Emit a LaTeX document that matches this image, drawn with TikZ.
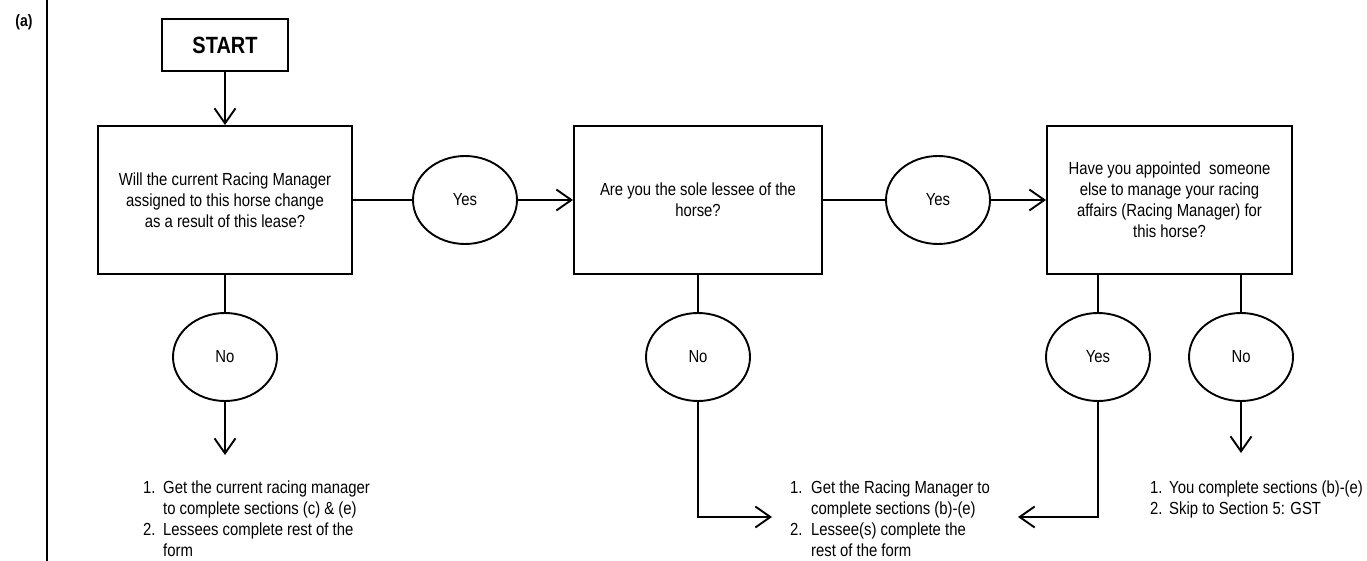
\documentclass[tikz,border=0pt]{standalone}
\usepackage{fontspec}
\setmainfont{Liberation Sans}[FakeStretch=0.85]
\usetikzlibrary{shapes.geometric,arrows.meta}
\begin{document}
\begin{tikzpicture}[x=1pt,y=-1pt,
  every node/.style={font={\fontsize{17.5}{21}\selectfont}},
  qbox/.style={draw,line width=2pt,rectangle,minimum height=148pt,inner sep=0pt,align=center},
  ans/.style={draw,line width=1.9pt,ellipse,minimum width=104pt,minimum height=88pt,inner sep=0pt},
  conn/.style={line width=1.9pt},
  arr/.style={conn,-{Straight Barb[length=15pt,width=21pt]}},
  lst/.style={anchor=base west,inner sep=0pt}
]
\useasboundingbox (0,0) rectangle (1367,561);
\draw[line width=2pt] (47,0) -- (47,561);
\node[inner sep=0pt,font={\bfseries\fontsize{16.5}{19}\selectfont}] (lab) at (24,22) {(a)};

\node[draw,line width=2pt,minimum width=126pt,minimum height=52pt,inner sep=0pt,font={\bfseries\fontsize{23.5}{27}\selectfont}] (start) at (225,45) {START};

\node[qbox,minimum width=254pt] (q1) at (225,200) {Will the current Racing Manager\\assigned to this horse change\\as a result of this lease?};
\node[qbox,minimum width=248pt] (q2) at (698,200) {Are you the sole lessee of the\\horse?};
\node[qbox,minimum width=245pt] (q3) at (1169.5,200) {Have you appointed\ \ someone\\else to manage your racing\\affairs (Racing Manager) for\\this horse?};

\node[ans] (y1) at (465,200) {Yes};
\node[ans] (y2) at (938,200) {Yes};
\node[ans] (n1) at (225,357) {No};
\node[ans] (n2) at (698,357) {No};
\node[ans] (y3) at (1098,357) {Yes};
\node[ans] (n3) at (1241,357) {No};

\coordinate (t1) at (225,455);
\coordinate (t2) at (772,517);
\coordinate (t3) at (1018,517);
\coordinate (t4) at (1241,453);

\draw[arr] (start) -- (q1);
\draw[conn] (q1) -- (y1);
\draw[arr] (y1) -- (q2);
\draw[conn] (q2) -- (y2);
\draw[arr] (y2) -- (q3);
\draw[conn] (q1) -- (n1);
\draw[arr] (n1) -- (t1);
\draw[conn] (q2) -- (n2);
\draw[arr] (n2.south) |- (t2);
\draw[conn] (y3.north |- q3.south) -- (y3);
\draw[conn] (n3.north |- q3.south) -- (n3);
\draw[arr] (y3.south) |- (t3);
\draw[arr] (n3) -- (t4);

\node[lst] (l1) at (143,493) {\begin{tabular}[t]{@{}p{20pt}@{}l@{}}1.&Get the current racing manager\\&to complete sections (c) \& (e)\\2.&Lessees complete rest of the\\&form\end{tabular}};
\node[lst] (l2) at (790,493) {\begin{tabular}[t]{@{}p{21pt}@{}l@{}}1.&Get the Racing Manager to\\&complete sections (b)-(e)\\2.&Lessee(s) complete the\\&rest of the form\end{tabular}};
\node[lst] (l3) at (1150,493) {\begin{tabular}[t]{@{}p{19pt}@{}l@{}}1.&You complete sections (b)-(e)\\2.&Skip to Section 5: GST\end{tabular}};
\end{tikzpicture}
\end{document}
